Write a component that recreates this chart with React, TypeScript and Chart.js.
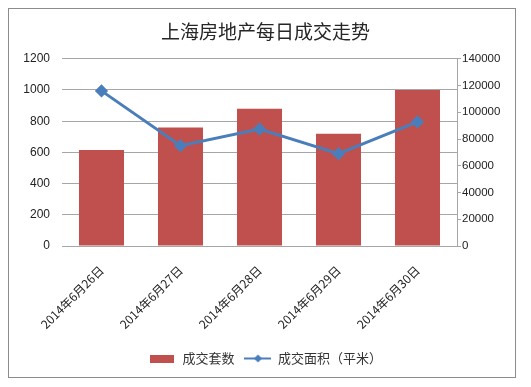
import React, { useEffect, useRef } from "react";
import { Chart, registerables } from "chart.js";

Chart.register(...registerables);

const categories = ["2014年6月26日", "2014年6月27日", "2014年6月28日", "2014年6月29日", "2014年6月30日"];
const unitsSold = [615, 760, 880, 720, 1000];
const areaSold = [116000, 75000, 87500, 69000, 92800];
const leftTicks = [0, 200, 400, 600, 800, 1000, 1200];
const rightTicks = [0, 20000, 40000, 60000, 80000, 100000, 120000, 140000];

const titleText = "上海房地产每日成交走势";
const barLabel = "成交套数";
const lineLabel = "成交面积（平米）";

const BAR_COLOR = "#C0504D";
const LINE_COLOR = "#4A7EBB";
const GRID = "#A6A6A6";
const CJK = "'Noto Sans CJK SC', 'Liberation Sans', sans-serif";
const NUM = "'Liberation Sans', 'Noto Sans CJK SC', sans-serif";

function makeBarIcon() {
  const c = document.createElement("canvas");
  c.width = 27;
  c.height = 9;
  const ctx = c.getContext("2d")!;
  ctx.fillStyle = BAR_COLOR;
  ctx.fillRect(1, 1, 24, 8);
  return c;
}

function makeLineIcon() {
  const c = document.createElement("canvas");
  c.width = 27;
  c.height = 11;
  const ctx = c.getContext("2d")!;
  ctx.strokeStyle = LINE_COLOR;
  ctx.lineWidth = 2;
  ctx.beginPath();
  ctx.moveTo(0, 5.5);
  ctx.lineTo(27, 5.5);
  ctx.stroke();
  ctx.fillStyle = LINE_COLOR;
  ctx.beginPath();
  ctx.moveTo(13.5, 1.5);
  ctx.lineTo(17.5, 5.5);
  ctx.lineTo(13.5, 9.5);
  ctx.lineTo(9.5, 5.5);
  ctx.closePath();
  ctx.fill();
  return c;
}

const framePlugin = {
  id: "frame",
  beforeDraw(chart: any) {
    const ctx = chart.ctx;
    ctx.save();
    ctx.fillStyle = "#FFFFFF";
    ctx.fillRect(0, 0, chart.width, chart.height);
    ctx.strokeStyle = "#8C8C8C";
    ctx.lineWidth = 1;
    ctx.strokeRect(8.5, 8.5, 507, 369);
    ctx.restore();
  },
};

export default function App() {
  const ref = useRef<HTMLCanvasElement | null>(null);

  useEffect(() => {
    if (!ref.current) return;
    const barIcon = makeBarIcon();
    const lineIcon = makeLineIcon();
    const chart = new Chart(ref.current, {
      type: "bar",
      data: {
        labels: categories,
        datasets: [
          {
            type: "line",
            label: lineLabel,
            data: areaSold,
            yAxisID: "y1",
            borderColor: LINE_COLOR,
            backgroundColor: LINE_COLOR,
            borderWidth: 3,
            pointStyle: "rectRot",
            pointRadius: 4.5,
            pointBackgroundColor: LINE_COLOR,
            pointBorderColor: LINE_COLOR,
            tension: 0,
            order: 0,
          } as any,
          {
            type: "bar",
            label: barLabel,
            data: unitsSold,
            yAxisID: "y",
            backgroundColor: BAR_COLOR,
            borderWidth: 0,
            categoryPercentage: 1,
            barPercentage: 0.57,
            order: 1,
          },
        ],
      },
      options: {
        responsive: false,
        animation: false,
        layout: { padding: { left: 0, right: 0, top: 0, bottom: 12 } },
        plugins: {
          tooltip: { enabled: false },
          title: {
            display: true,
            text: titleText,
            color: "#262626",
            font: { family: CJK, size: 19, weight: "normal" },
            padding: { top: 20, bottom: 16 },
          },
          legend: {
            display: true,
            position: "bottom",
            reverse: true,
            labels: {
              usePointStyle: true,
              pointStyleWidth: 27,
              boxHeight: 10,
              color: "#333333",
              font: { family: CJK, size: 13 },
              padding: 10,
              generateLabels: (ch: any) => {
                const items = Chart.defaults.plugins.legend.labels.generateLabels(ch);
                return items.map((it: any) => ({
                  ...it,
                  pointStyle: it.datasetIndex === 1 ? barIcon : lineIcon,
                }));
              },
            },
          },
        },
        scales: {
          x: {
            grid: { display: false },
            border: { display: true, color: GRID },
            ticks: {
              maxRotation: 45,
              minRotation: 45,
              color: "#222222",
              font: { family: CJK, size: 12 },
              padding: 9,
            },
            afterFit: (s: any) => {
              s.height = 96;
            },
          },
          y: {
            position: "left",
            min: 0,
            max: 1200,
            afterBuildTicks: (s: any) => {
              s.ticks = leftTicks.map((v) => ({ value: v }));
            },
            grid: { color: GRID, drawTicks: false },
            border: { display: false },
            ticks: {
              color: "#222222",
              font: { family: NUM, size: 12 },
              padding: 12,
              callback: (v: any) => String(v),
            },
            afterFit: (s: any) => {
              s.width = 62;
            },
          },
          y1: {
            position: "right",
            min: 0,
            max: 140000,
            afterBuildTicks: (s: any) => {
              s.ticks = rightTicks.map((v) => ({ value: v }));
            },
            grid: { drawOnChartArea: false, color: GRID, tickLength: 4 },
            border: { display: true, color: GRID },
            ticks: {
              color: "#222222",
              font: { family: NUM, size: 11.5 },
              padding: 1,
              callback: (v: any) => String(v),
            },
            afterFit: (s: any) => {
              s.width = 74;
            },
          },
        },
      },
      plugins: [framePlugin],
    });
    return () => chart.destroy();
  }, []);

  return (
    <div style={{ position: "fixed", left: 0, top: 0, width: 531, height: 387 }}>
      <canvas ref={ref} width={531} height={387} style={{ display: "block" }} />
    </div>
  );
}
